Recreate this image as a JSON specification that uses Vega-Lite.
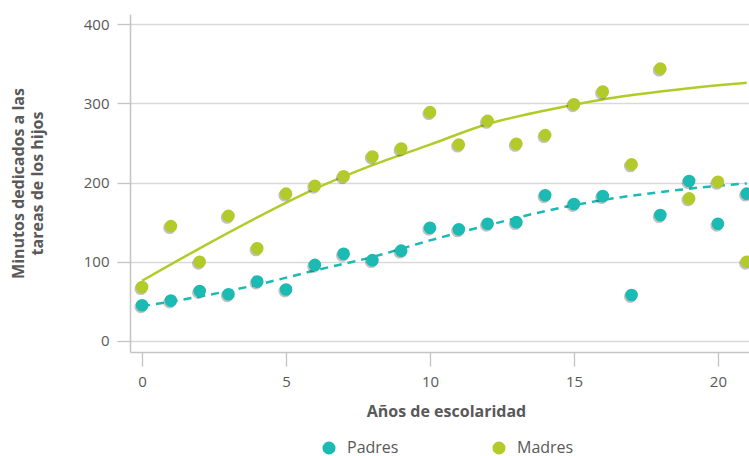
{
  "$schema": "https://vega.github.io/schema/vega-lite/v6.json",
  "width": 632,
  "height": 338,
  "autosize": "none",
  "padding": {"left": 130, "top": 14, "right": 0, "bottom": 104},
  "background": "white",
  "datasets": {
    "puntos": [
      {"x": 0, "value": 68, "serie": "Madres"},
      {"x": 1, "value": 145, "serie": "Madres"},
      {"x": 2, "value": 100, "serie": "Madres"},
      {"x": 3, "value": 158, "serie": "Madres"},
      {"x": 4, "value": 117, "serie": "Madres"},
      {"x": 5, "value": 186, "serie": "Madres"},
      {"x": 6, "value": 196, "serie": "Madres"},
      {"x": 7, "value": 208, "serie": "Madres"},
      {"x": 8, "value": 233, "serie": "Madres"},
      {"x": 9, "value": 243, "serie": "Madres"},
      {"x": 10, "value": 289, "serie": "Madres"},
      {"x": 11, "value": 248, "serie": "Madres"},
      {"x": 12, "value": 278, "serie": "Madres"},
      {"x": 13, "value": 249, "serie": "Madres"},
      {"x": 14, "value": 260, "serie": "Madres"},
      {"x": 15, "value": 299, "serie": "Madres"},
      {"x": 16, "value": 315, "serie": "Madres"},
      {"x": 17, "value": 223, "serie": "Madres"},
      {"x": 18, "value": 344, "serie": "Madres"},
      {"x": 19, "value": 180, "serie": "Madres"},
      {"x": 20, "value": 201, "serie": "Madres"},
      {"x": 21, "value": 100, "serie": "Madres"},
      {"x": 0, "value": 45, "serie": "Padres"},
      {"x": 1, "value": 51, "serie": "Padres"},
      {"x": 2, "value": 63, "serie": "Padres"},
      {"x": 3, "value": 59, "serie": "Padres"},
      {"x": 4, "value": 75, "serie": "Padres"},
      {"x": 5, "value": 65, "serie": "Padres"},
      {"x": 6, "value": 96, "serie": "Padres"},
      {"x": 7, "value": 110, "serie": "Padres"},
      {"x": 8, "value": 102, "serie": "Padres"},
      {"x": 9, "value": 114, "serie": "Padres"},
      {"x": 10, "value": 143, "serie": "Padres"},
      {"x": 11, "value": 141, "serie": "Padres"},
      {"x": 12, "value": 148, "serie": "Padres"},
      {"x": 13, "value": 150, "serie": "Padres"},
      {"x": 14, "value": 184, "serie": "Padres"},
      {"x": 15, "value": 173, "serie": "Padres"},
      {"x": 16, "value": 183, "serie": "Padres"},
      {"x": 17, "value": 58, "serie": "Padres"},
      {"x": 18, "value": 159, "serie": "Padres"},
      {"x": 19, "value": 202, "serie": "Padres"},
      {"x": 20, "value": 148, "serie": "Padres"},
      {"x": 21, "value": 186, "serie": "Padres"}
    ],
    "tendencias": [
      {"x": 0, "value": 76, "grupo": "Madres"},
      {"x": 2, "value": 117, "grupo": "Madres"},
      {"x": 4, "value": 156, "grupo": "Madres"},
      {"x": 6, "value": 192, "grupo": "Madres"},
      {"x": 8, "value": 222, "grupo": "Madres"},
      {"x": 10, "value": 248, "grupo": "Madres"},
      {"x": 12, "value": 274, "grupo": "Madres"},
      {"x": 14, "value": 291, "grupo": "Madres"},
      {"x": 16, "value": 305, "grupo": "Madres"},
      {"x": 18, "value": 315, "grupo": "Madres"},
      {"x": 20, "value": 323, "grupo": "Madres"},
      {"x": 21, "value": 326, "grupo": "Madres"},
      {"x": 0, "value": 44, "grupo": "Padres"},
      {"x": 2, "value": 56, "grupo": "Padres"},
      {"x": 4, "value": 71, "grupo": "Padres"},
      {"x": 6, "value": 89, "grupo": "Padres"},
      {"x": 8, "value": 106, "grupo": "Padres"},
      {"x": 10, "value": 127, "grupo": "Padres"},
      {"x": 12, "value": 146, "grupo": "Padres"},
      {"x": 14, "value": 164, "grupo": "Padres"},
      {"x": 16, "value": 178, "grupo": "Padres"},
      {"x": 18, "value": 188, "grupo": "Padres"},
      {"x": 20, "value": 196, "grupo": "Padres"},
      {"x": 21, "value": 199, "grupo": "Padres"}
    ]
  },
  "encoding": {
    "x": {
      "field": "x", "type": "quantitative",
      "scale": {"domain": [-0.42, 21.53], "nice": false, "zero": false},
      "axis": {
        "title": "Años de escolaridad",
        "values": [0, 5, 10, 15, 20],
        "grid": false,
        "tickSize": 14,
        "labelPadding": 8,
        "titlePadding": 14
      }
    },
    "y": {
      "field": "value", "type": "quantitative",
      "scale": {"domain": [-14, 413], "nice": false, "zero": false},
      "axis": {
        "title": ["Minutos dedicados a las", "tareas de los hijos"],
        "values": [0, 100, 200, 300, 400],
        "grid": true,
        "tickSize": 13,
        "labelPadding": 8,
        "titlePadding": 38,
        "titleLineHeight": 19
      }
    }
  },
  "layer": [
    {
      "data": {"name": "tendencias"},
      "transform": [{"filter": "datum.grupo === 'Madres'"}],
      "mark": {"type": "line", "strokeWidth": 2.5, "interpolate": "monotone", "color": "#b2cb2a"},
      "encoding": {}
    },
    {
      "data": {"name": "tendencias"},
      "transform": [{"filter": "datum.grupo === 'Padres'"}],
      "mark": {"type": "line", "strokeWidth": 2.5, "interpolate": "monotone", "color": "#1bbab3", "strokeDash": [8, 6]},
      "encoding": {}
    },
    {
      "data": {"name": "puntos"},
      "mark": {"type": "point", "filled": true, "opacity": 0.28, "size": 160, "xOffset": -1.3, "yOffset": 1.6, "color": "#202020"}
    },
    {
      "data": {"name": "puntos"},
      "mark": {"type": "point", "filled": true, "opacity": 1, "size": 160},
      "encoding": {
        "color": {
          "field": "serie", "type": "nominal",
          "scale": {"domain": ["Padres", "Madres"], "range": ["#1bbab3", "#b2cb2a"]},
          "legend": {
            "title": null,
            "orient": "none",
            "legendX": 191,
            "legendY": 426,
            "direction": "horizontal",
            "symbolType": "circle",
            "symbolSize": 170,
            "labelFontSize": 16,
            "labelOffset": 10,
            "columnPadding": 92
          }
        }
      }
    }
  ],
  "config": {
    "view": {"stroke": null},
    "font": "Open Sans",
    "axis": {
      "labelFont": "Open Sans",
      "labelFontSize": 15,
      "labelColor": "#595959",
      "titleFont": "Open Sans",
      "titleFontSize": 16,
      "titleFontWeight": "bold",
      "titleColor": "#595959",
      "gridColor": "#d9d9d9",
      "gridWidth": 1.3,
      "domainColor": "#c4c4c4",
      "domainWidth": 1.5,
      "tickColor": "#c4c4c4",
      "tickWidth": 1.3
    },
    "legend": {
      "labelFont": "Open Sans",
      "labelColor": "#595959"
    }
  }
}
